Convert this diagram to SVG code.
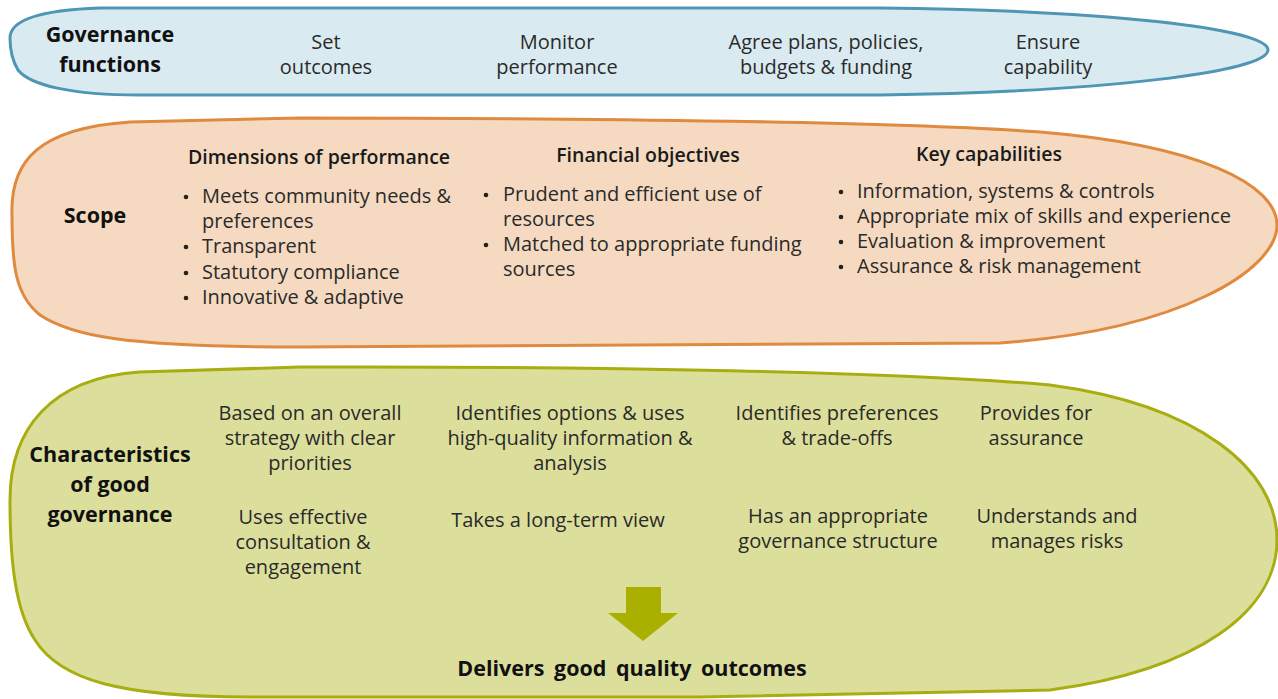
<svg xmlns="http://www.w3.org/2000/svg" width="1278" height="699" viewBox="0 0 1278 699">
<style>
  text { font-family: "Open Sans", Lato, "Liberation Sans", sans-serif; fill: #2a2a2a; font-size: 20px; }
  .c { text-anchor: middle; }
  .b { font-weight: bold; fill: #111; font-size: 21.5px; }
  .h { font-weight: 600; fill: #1a1a1a; font-size: 19.5px; text-anchor: middle; }
  .dot { fill: #222; }
  .blue { fill: #daeaf1; stroke: #4f96b4; stroke-width: 3; }
  .orange { fill: #f5dac1; stroke: #df8a3e; stroke-width: 3; }
  .green { fill: #dcdf9c; stroke: #a8ad10; stroke-width: 3; }
  .arrow { fill: #aab000; }
</style>

<g id="governance-functions">
  <path class="blue" d="M 10,38 C 10,20 40,10 100,8 L 880,8 C 1100,10 1268,28 1268,50 C 1268,72 1100,92 880,95 L 140,95 C 70,95 30,85 18,70 C 12,60 10,50 10,38 Z"/>
  <text class="b c" x="110" y="42">Governance</text>
  <text class="b c" x="110" y="72">functions</text>
  <text class="c" x="326" y="49">Set</text>
  <text class="c" x="326" y="74">outcomes</text>
  <text class="c" x="557" y="49">Monitor</text>
  <text class="c" x="557" y="74">performance</text>
  <text class="c" x="826" y="49">Agree plans, policies,</text>
  <text class="c" x="826" y="74">budgets &amp; funding</text>
  <text class="c" x="1048" y="49">Ensure</text>
  <text class="c" x="1048" y="74">capability</text>
</g>

<g id="scope">
  <path class="orange" d="M 12,215 C 10,160 40,128 130,122 L 300,118 C 600,118 900,122 1040,132 C 1200,145 1277,185 1277,225 C 1277,270 1180,330 1000,343 L 300,347 C 120,347 70,335 40,315 C 15,295 12,265 12,215 Z"/>
  <text class="b c" x="95" y="223">Scope</text>

  <text class="h" x="319" y="164">Dimensions of performance</text>
  <circle class="dot" cx="186" cy="197" r="2.3"/><text x="202" y="203">Meets community needs &amp;</text>
  <text x="202" y="228">preferences</text>
  <circle class="dot" cx="186" cy="247" r="2.3"/><text x="202" y="253">Transparent</text>
  <circle class="dot" cx="186" cy="273" r="2.3"/><text x="202" y="279">Statutory compliance</text>
  <circle class="dot" cx="186" cy="298" r="2.3"/><text x="202" y="304">Innovative &amp; adaptive</text>

  <text class="h" x="648" y="162">Financial objectives</text>
  <circle class="dot" cx="486" cy="195" r="2.3"/><text x="503" y="201">Prudent and efficient use of</text>
  <text x="503" y="226">resources</text>
  <circle class="dot" cx="486" cy="245" r="2.3"/><text x="503" y="251">Matched to appropriate funding</text>
  <text x="503" y="276">sources</text>

  <text class="h" x="989" y="161">Key capabilities</text>
  <circle class="dot" cx="841" cy="192" r="2.3"/><text x="857" y="198">Information, systems &amp; controls</text>
  <circle class="dot" cx="841" cy="217" r="2.3"/><text x="857" y="223">Appropriate mix of skills and experience</text>
  <circle class="dot" cx="841" cy="242" r="2.3"/><text x="857" y="248">Evaluation &amp; improvement</text>
  <circle class="dot" cx="841" cy="267" r="2.3"/><text x="857" y="273">Assurance &amp; risk management</text>
</g>

<g id="characteristics">
  <path class="green" d="M 10,500 C 10,430 50,378 140,372 L 300,367 C 600,366 900,372 1050,385 C 1200,405 1277,470 1277,540 C 1277,610 1200,670 1050,690 L 700,697 L 250,697 C 120,697 60,680 35,640 C 15,610 10,560 10,500 Z"/>
  <text class="b c" x="110" y="462">Characteristics</text>
  <text class="b c" x="110" y="492">of good</text>
  <text class="b c" x="110" y="522">governance</text>

  <text class="c" x="310" y="420">Based on an overall</text>
  <text class="c" x="310" y="445">strategy with clear</text>
  <text class="c" x="310" y="470">priorities</text>

  <text class="c" x="570" y="420">Identifies options &amp; uses</text>
  <text class="c" x="570" y="445">high-quality information &amp;</text>
  <text class="c" x="570" y="470">analysis</text>

  <text class="c" x="837" y="420">Identifies preferences</text>
  <text class="c" x="837" y="445">&amp; trade-offs</text>

  <text class="c" x="1036" y="420">Provides for</text>
  <text class="c" x="1036" y="445">assurance</text>

  <text class="c" x="303" y="524">Uses effective</text>
  <text class="c" x="303" y="549">consultation &amp;</text>
  <text class="c" x="303" y="574">engagement</text>

  <text class="c" x="558" y="527">Takes a long-term view</text>

  <text class="c" x="838" y="523">Has an appropriate</text>
  <text class="c" x="838" y="548">governance structure</text>

  <text class="c" x="1057" y="523">Understands and</text>
  <text class="c" x="1057" y="548">manages risks</text>

  <text class="b c" x="632" y="676" word-spacing="4">Delivers good quality outcomes</text>
</g>

<g id="connectors">
  <polygon class="arrow" points="626,587 661,587 661,613 678,613 643,641 608,613 626,613"/>
</g>
</svg>
